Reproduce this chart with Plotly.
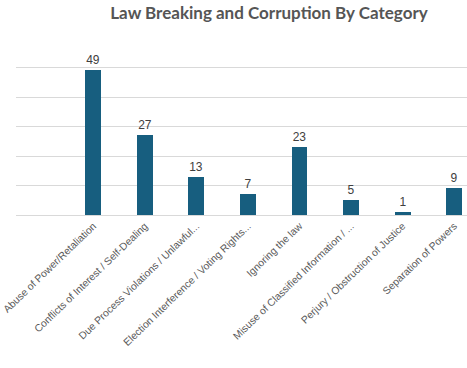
import plotly.graph_objects as go

categories = [
    "Abuse of Power/Retaliation",
    "Conflicts of Interest / Self-Dealing",
    "Due Process Violations / Unlawful...",
    "Election Interference / Voting Rights...",
    "Ignoring the law",
    "Misuse of Classified Information / ...",
    "Perjury / Obstruction of Justice",
    "Separation of Powers",
]
counts = [49, 27, 13, 7, 23, 5, 1, 9]

W, H = 467, 368

fig = go.Figure(go.Bar(
    x=categories, y=counts,
    marker=dict(color="#175e7f", line=dict(width=0)),
    width=0.31,
    text=[str(v) for v in counts], textposition="outside",
    textfont=dict(size=12, color="#404040", family="Liberation Sans"),
    cliponaxis=False,
))

fig.update_layout(
    width=W, height=H,
    paper_bgcolor="white", plot_bgcolor="white",
    margin=dict(l=16, r=0, t=38, b=H - 215, autoexpand=False),
    title=dict(text="<b>Law Breaking and Corruption By Category</b>",
               x=269 / W, xanchor="center", y=1 - 13 / H, yanchor="middle",
               font=dict(size=17, color="#555555", family="Lato")),
    showlegend=False,
    bargap=0,
)
fig.update_xaxes(
    type="category", range=[-1.5, 7.25], automargin=False,
    tickangle=-44, tickfont=dict(size=10.3, color="#595959", family="Liberation Sans"),
    showline=True, linecolor="#d9d9d9", linewidth=1,
    ticks="", showgrid=False,
)
fig.update_yaxes(
    range=[0, 60], dtick=10, showticklabels=False, automargin=False,
    showgrid=True, gridcolor="#d9d9d9", gridwidth=1,
    zeroline=False, ticks="",
)

# remove the browser's default 8px body margin so the figure fills the window
fig.write_html("out.html",
               config={"displayModeBar": False},
               post_script="document.body.style.margin='0';document.body.style.overflow='hidden';")
